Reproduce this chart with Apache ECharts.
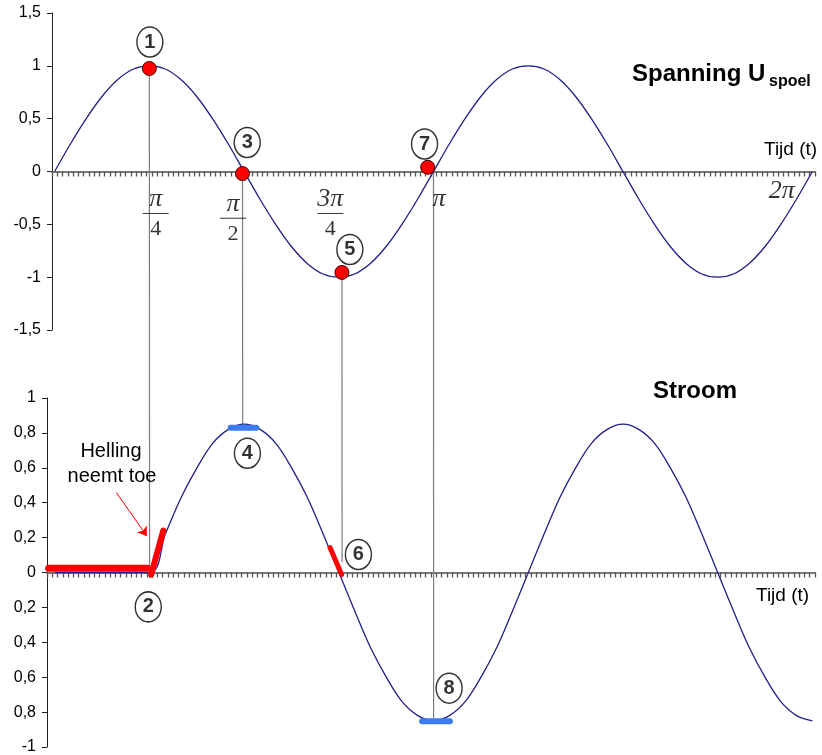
<!DOCTYPE html>
<html>
<head>
<meta charset="utf-8">
<script src="https://cdn.jsdelivr.net/npm/echarts@6/dist/echarts.min.js"></script>
<style>
  html, body { margin: 0; padding: 0; background: #fff; }
  #chart { width: 822px; height: 755px; }
</style>
</head>
<body>
<div id="chart"></div>
<script>
// x is measured in steps of pi/72, so 18 = pi/4, 72 = pi, 144 = 2pi
const spanK = [0, 3, 6, 9, 12, 15, 18, 21, 24, 27, 30, 33, 36, 39, 42, 45, 48, 51, 54, 57, 60, 63, 66, 69, 72,
  75, 78, 81, 84, 87, 90, 93, 96, 99, 102, 105, 108, 111, 114, 117, 120, 123, 126, 129, 132, 135, 138, 141, 144];
const spanU = [0, 0.26, 0.5, 0.71, 0.87, 0.97, 1, 0.97, 0.87, 0.71, 0.5, 0.26, 0, -0.26, -0.5, -0.71, -0.87, -0.97, -1,
  -0.97, -0.87, -0.71, -0.5, -0.26, 0, 0.26, 0.5, 0.71, 0.87, 0.97, 1, 0.97, 0.87, 0.71, 0.5, 0.26, 0,
  -0.26, -0.5, -0.71, -0.87, -0.97, -1, -0.97, -0.87, -0.71, -0.5, -0.26, 0];

const stroomK = [0, 18, 21, 24, 27, 30, 33, 36, 39, 42, 45, 48, 51, 54, 57, 60, 63, 66, 69, 72,
  75, 78, 81, 84, 87, 90, 93, 96, 99, 102, 105, 108, 111, 114, 117, 120, 123, 126, 129, 132, 135, 138, 141, 144];
const stroomI = [0, 0, 0.22, 0.43, 0.6, 0.74, 0.82, 0.85, 0.82, 0.74, 0.6, 0.43, 0.22, 0, -0.22, -0.43, -0.6, -0.74, -0.82, -0.85,
  -0.82, -0.74, -0.6, -0.43, -0.22, 0, 0.22, 0.43, 0.6, 0.74, 0.82, 0.85, 0.82, 0.74, 0.6, 0.43, 0.22, 0,
  -0.22, -0.43, -0.6, -0.74, -0.82, -0.85];

// rode punten op de spanning
const dotK = [18, 35.7, 54.6, 70.9];
const dotU = [0.975, -0.02, -0.955, 0.04];

// hulplijnen van spanning naar stroom
const guideK = [18, 35.7, 54.6, 72];
const guideU = [0.975, -0.02, -0.955, 0];
const guideI = [-0.03, 0.846, 0.06, -0.84];

// genummerde labels
const topBadgeNr = ['1', '3', '5', '7'];
const topBadgeK = [18.1, 36.6, 56.1, 70.3];
const topBadgeU = [1.225, 0.274, -0.738, 0.26];
const botBadgeNr = ['4', '2', '6', '8'];
const botBadgeK = [36.6, 17.75, 57.7, 74.95];
const botBadgeI = [0.683, -0.197, 0.103, -0.663];

// hellingen (rood) en toppen (blauw)
const redFlat = [[-1.2, 0.025], [17.6, 0.025]];
const redRise = [[18.3, -0.012], [20.6, 0.24]];
const redFall = [[52.3, 0.143], [54.5, -0.011]];
const bluePeak = [[33.4, 0.83], [38.3, 0.83]];
const blueDip = [[69.8, -0.853], [75.1, -0.853]];
const arrowFrom = [11.67, 0.459];
const arrowTo = [17.5, 0.208];

// tick labels
const topYValues = [-1.5, -1, -0.5, 0, 0.5, 1, 1.5];
const topYLabels = ['-1,5', '-1', '-0,5', '0', '0,5', '1', '1,5'];
const botYValues = [-1, -0.8, -0.6, -0.4, -0.2, 0, 0.2, 0.4, 0.6, 0.8, 1];
const botYLabels = ['-1', '0,8', '0,6', '0,4', '0,2', '0', '0,2', '0,4', '0,6', '0,8', '1'];

// pi labels
const piK = [19.2, 33.9, 52.4, 73.05, 138.2];
const piU = [-0.416, -0.461, -0.416, -0.265, -0.19];
const piNum = ['π', 'π', '3π', 'π', '2π'];
const piDen = ['4', '2', '4', '', ''];

const sans = 'Liberation Sans, Arial, sans-serif';
const serif = 'Liberation Serif, Times New Roman, serif';
const curveColor = '#1f1f8c';

const zip = (a, b) => a.map((v, i) => [v, b[i]]);

const chart = echarts.init(document.getElementById('chart'));

function xAxisFor(gridIndex, min) {
  return {
    gridIndex: gridIndex,
    type: 'value',
    min: min,
    max: 144.5,
    interval: 1,
    axisLine: { onZero: true, lineStyle: { color: '#7a7a7a', width: 2 } },
    axisTick: { show: true, length: 5, lineStyle: { color: '#555', width: 1.3 } },
    axisLabel: { show: false },
    splitLine: { show: false }
  };
}

function yAxisFor(gridIndex, min, max, interval, values, labels) {
  return {
    gridIndex: gridIndex,
    type: 'value',
    min: min,
    max: max,
    interval: interval,
    axisLine: { show: true, onZero: false, lineStyle: { color: '#222', width: 1 } },
    axisTick: { show: true, length: 5, lineStyle: { color: '#222' } },
    axisLabel: {
      color: '#000',
      fontSize: 16,
      fontFamily: sans,
      margin: 11,
      formatter: v => {
        const i = values.findIndex(x => Math.abs(x - v) < 1e-6);
        return i >= 0 ? labels[i] : '';
      }
    },
    splitLine: { show: false }
  };
}

function segment(data, color, width) {
  return {
    type: 'line',
    xAxisIndex: 1,
    yAxisIndex: 1,
    data: data,
    symbol: 'none',
    silent: true,
    z: 6,
    lineStyle: { color: color, width: width, cap: 'round' }
  };
}

function badges(gridIndex, nrs, ks, vs) {
  return {
    type: 'scatter',
    xAxisIndex: gridIndex,
    yAxisIndex: gridIndex,
    symbol: 'circle',
    symbolSize: [26, 30],
    silent: true,
    z: 8,
    itemStyle: { color: '#fff', borderColor: '#000', borderWidth: 1.5 },
    label: {
      show: true,
      position: 'inside',
      formatter: '{b}',
      color: '#000',
      fontSize: 20,
      fontWeight: 'bold',
      fontFamily: sans
    },
    data: nrs.map((n, i) => ({ name: n, value: [ks[i], vs[i]] }))
  };
}

const option = {
  animation: false,
  backgroundColor: '#fff',
  grid: [
    { left: 52, right: 7, top: 13, height: 317 },
    { left: 47, right: 7, top: 398, height: 350 }
  ],
  xAxis: [xAxisFor(0, -0.5), xAxisFor(1, -1.5)],
  yAxis: [
    yAxisFor(0, -1.5, 1.5, 0.5, topYValues, topYLabels),
    yAxisFor(1, -1, 1, 0.2, botYValues, botYLabels)
  ],
  series: [
    {
      name: 'Spanning',
      type: 'line',
      xAxisIndex: 0,
      yAxisIndex: 0,
      data: zip(spanK, spanU),
      symbol: 'none',
      smooth: 0.35,
      lineStyle: { color: curveColor, width: 1.3 },
      z: 4
    },
    {
      name: 'Stroom',
      type: 'line',
      xAxisIndex: 1,
      yAxisIndex: 1,
      data: zip(stroomK, stroomI),
      symbol: 'none',
      smooth: 0.35,
      lineStyle: { color: curveColor, width: 1.3 },
      z: 4
    },
    {
      type: 'scatter',
      xAxisIndex: 0,
      yAxisIndex: 0,
      data: zip(dotK, dotU),
      symbolSize: 14,
      silent: true,
      z: 9,
      itemStyle: { color: '#ff0000', borderColor: '#400000', borderWidth: 1, opacity: 1 }
    },
    badges(0, topBadgeNr, topBadgeK, topBadgeU),
    badges(1, botBadgeNr, botBadgeK, botBadgeI),
    segment(redFlat, '#ff0000', 7),
    segment(redRise, '#ff0000', 6),
    segment(redFall, '#ff0000', 5),
    segment(bluePeak, '#3d7cf0', 6),
    segment(blueDip, '#3d7cf0', 6),
    {
      type: 'line',
      xAxisIndex: 1,
      yAxisIndex: 1,
      data: [],
      markLine: {
        silent: true,
        symbol: ['none', 'arrow'],
        symbolSize: 9,
        label: { show: false },
        lineStyle: { color: '#ff0000', width: 1, type: 'solid' },
        data: [[{ coord: arrowFrom }, { coord: arrowTo }]]
      }
    },
    {
      type: 'scatter',
      xAxisIndex: 0,
      yAxisIndex: 0,
      symbolSize: 1,
      silent: true,
      itemStyle: { color: 'rgba(0,0,0,0)' },
      label: {
        show: true,
        position: 'inside',
        formatter: p => {
          const i = p.dataIndex;
          if (piDen[i]) return '{n|' + piNum[i] + '}\n{bar| }\n{d|' + piDen[i] + '}';
          return '{n|' + piNum[i] + '}';
        },
        rich: {
          n: { fontFamily: serif, fontStyle: 'italic', fontSize: 26, lineHeight: 24, color: '#000', align: 'center' },
          bar: { width: 26, height: 1, lineHeight: 4, fontSize: 1, backgroundColor: '#000', align: 'center' },
          d: { fontFamily: serif, fontSize: 22, lineHeight: 28, color: '#000', align: 'center' }
        }
      },
      data: zip(piK, piU)
    }
  ]
};

chart.setOption(option);

// hulplijnen lopen over beide grafieken heen
const guides = guideK.map((k, i) => {
  const p1 = chart.convertToPixel({ gridIndex: 0 }, [k, guideU[i]]);
  const p2 = chart.convertToPixel({ gridIndex: 1 }, [k, guideI[i]]);
  return {
    type: 'line',
    silent: true,
    z: 1,
    shape: { x1: p1[0], y1: p1[1], x2: p2[0], y2: p2[1] },
    style: { stroke: '#7d7d7d', lineWidth: 1.2 }
  };
});

const texts = [
  { x: 632, y: 74, text: 'Spanning U', font: 'bold 24px ' + sans },
  { x: 769, y: 82, text: 'spoel', font: 'bold 16px ' + sans },
  { x: 653, y: 391, text: 'Stroom', font: 'bold 24px ' + sans },
  { x: 764, y: 150, text: 'Tijd (t)', font: '19px ' + sans },
  { x: 756, y: 596, text: 'Tijd (t)', font: '19px ' + sans },
  { x: 111, y: 451, text: 'Helling', font: '20px ' + sans, align: 'center' },
  { x: 112, y: 476, text: 'neemt toe', font: '20px ' + sans, align: 'center' }
].map(t => ({
  type: 'text',
  silent: true,
  z: 10,
  style: {
    x: t.x,
    y: t.y,
    text: t.text,
    font: t.font,
    fill: '#000',
    textAlign: t.align || 'left',
    textVerticalAlign: 'middle'
  }
}));

chart.setOption({ graphic: guides.concat(texts) });

window.addEventListener('resize', () => {
  chart.resize();
});
</script>
</body>
</html>
